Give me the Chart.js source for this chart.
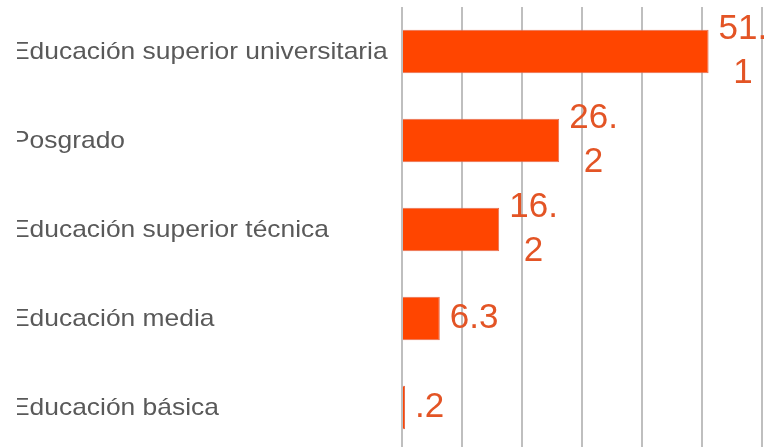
<!DOCTYPE html>
<html>
<head>
<meta charset="utf-8">
<script src="https://cdn.jsdelivr.net/npm/chart.js"></script>
<style>
    html, body { margin: 0; padding: 0; background: #fff; overflow: hidden; }
    /* el original viene recortado por la izquierda */
    #grafico { clip-path: inset(0 0 0 17px); }
</style>
</head>
<body>
<canvas id="grafico" width="769" height="456"></canvas>
<script>
const categorias = ['Educación superior universitaria', 'Posgrado', 'Educación superior técnica', 'Educación media', 'Educación básica'];
const porcentajes = [51.1, 26.2, 16.2, 6.3, 0.2];
const etiquetas = ['51.1', '26.2', '16.2', '6.3', '.2'];
const ejeMin = 0;
const ejeMax = 60;
const ejePaso = 10;

const fuente = '"Liberation Sans", Arial, sans-serif';

// Categorías del eje Y: en el original el texto sale algo estirado a lo ancho
const categoriasEstiradas = {
    id: 'categoriasEstiradas',
    afterDraw(chart) {
        const ctx = chart.ctx;
        const ejeY = chart.scales.y;
        ctx.save();
        ctx.font = '24px ' + fuente;
        ctx.fillStyle = '#595959';
        ctx.textAlign = 'left';
        ctx.textBaseline = 'middle';
        ejeY.ticks.forEach((t, i) => {
            ctx.save();
            ctx.translate(12, ejeY.getPixelForTick(i) + 1);
            ctx.scale(1.1, 1);
            ctx.fillText(categorias[i], 0, 0);
            ctx.restore();
        });
        ctx.restore();
    }
};

// Etiquetas de valor a la derecha de cada barra (se parten después del punto si no caben)
const etiquetasDatos = {
    id: 'etiquetasDatos',
    afterDatasetsDraw(chart) {
        const ctx = chart.ctx;
        const meta = chart.getDatasetMeta(0);
        ctx.save();
        ctx.font = '35px ' + fuente;
        ctx.fillStyle = '#E35425';
        ctx.textAlign = 'center';
        ctx.textBaseline = 'middle';
        meta.data.forEach((barra, i) => {
            const texto = etiquetas[i];
            const corte = texto.indexOf('.') + 1;
            const lineas = texto.length > 3 ? [texto.slice(0, corte), texto.slice(corte)] : [texto];
            const ancho = Math.max(...lineas.map(l => ctx.measureText(l).width));
            const xc = barra.x + 10 + ancho / 2;
            lineas.forEach((l, j) => {
                const y = barra.y + (j - (lineas.length - 1) / 2) * 44;
                ctx.fillText(l, xc, y);
            });
        });
        ctx.restore();
    }
};

new Chart(document.getElementById('grafico').getContext('2d'), {
    type: 'bar',
    data: {
        labels: categorias,
        datasets: [{
            data: porcentajes,
            backgroundColor: '#FF4500',
            borderColor: 'rgba(228, 110, 80, 1)',
            borderWidth: 1,
            barPercentage: 0.49,
            categoryPercentage: 1,
            minBarLength: 3
        }]
    },
    options: {
        indexAxis: 'y',
        responsive: false,
        animation: false,
        layout: { padding: { left: 11, right: 7, top: 7, bottom: 4 } },
        plugins: {
            legend: { display: false },
            tooltip: { enabled: false }
        },
        scales: {
            x: {
                min: ejeMin,
                max: ejeMax,
                ticks: { display: false, stepSize: ejePaso },
                grid: { color: '#BFBFBF', lineWidth: 2, drawTicks: false },
                border: { display: false },
                afterFit(escala) {
                    escala.height = 0;
                }
            },
            y: {
                grid: { display: false, drawTicks: false },
                border: { display: false },
                ticks: { display: false },
                afterFit(escala) {
                    escala.width = 391;
                }
            }
        }
    },
    plugins: [categoriasEstiradas, etiquetasDatos]
});
</script>
</body>
</html>
